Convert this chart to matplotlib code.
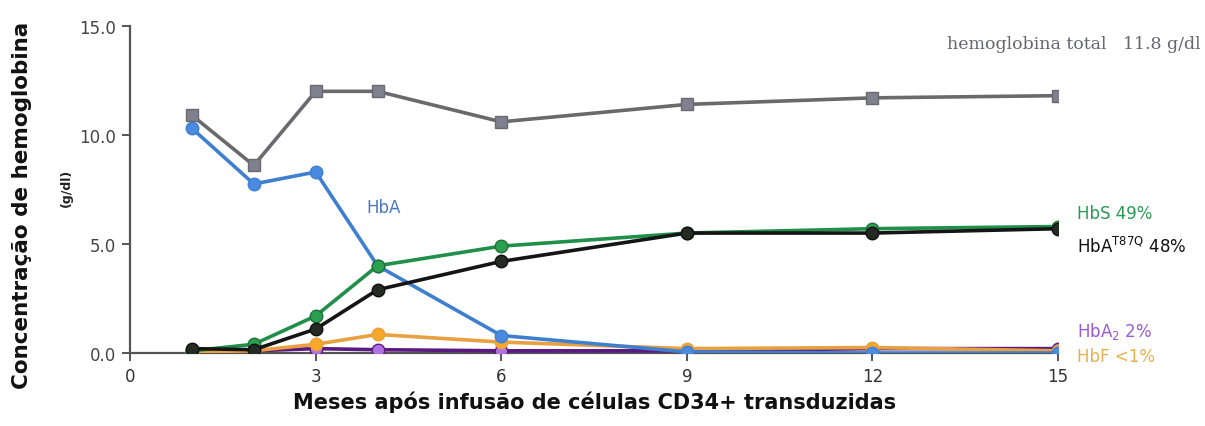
import matplotlib
matplotlib.use("Agg")
import matplotlib.pyplot as plt

months = [1, 2, 3, 4, 6, 9, 12, 15]
total = [10.9, 8.6, 12.0, 12.0, 10.6, 11.4, 11.7, 11.8]
hba = [10.3, 7.75, 8.3, 4.0, 0.8, 0.05, 0.0, 0.0]
hbs = [0.1, 0.4, 1.7, 4.0, 4.9, 5.5, 5.7, 5.8]
hbat87q = [0.2, 0.15, 1.1, 2.9, 4.2, 5.5, 5.5, 5.7]
hbf = [0.05, 0.1, 0.4, 0.85, 0.5, 0.2, 0.25, 0.1]
hba2 = [0.1, 0.1, 0.2, 0.15, 0.1, 0.1, 0.2, 0.2]

xticks = [0, 3, 6, 9, 12, 15]
yticks = [0.0, 5.0, 10.0, 15.0]

fig = plt.figure(figsize=(12.05, 4.27), dpi=100)
ax = fig.add_axes([0.108, 0.171, 0.770, 0.766])

lw = 2.6
ms = 9
ax.plot(months, hba2, color="#5a1a80", lw=lw, marker="o", ms=ms, mfc="#b070e0", mec="#5a1a80", zorder=3)
ax.plot(months, hbf, color="#e8a040", lw=lw, marker="o", ms=ms, mfc="#f7a828", mec="#e8a040", zorder=4)
ax.plot(months, hba, color="#3f7fd0", lw=lw, marker="o", ms=ms, mfc="#4a8ae0", mec="#3f7fd0", zorder=5)
ax.plot(months, hbs, color="#1f8f4a", lw=lw, marker="o", ms=ms, mfc="#2aa050", mec="#1f6f3a", zorder=6)
ax.plot(months, hbat87q, color="#151515", lw=lw, marker="o", ms=ms, mfc="#252a25", mec="#101010", zorder=7)
ax.plot(months, total, color="#6a6a6e", lw=lw, marker="s", ms=ms, mfc="#80808e", mec="#6a6a70", zorder=8)

ax.set_xlim(0, 15)
ax.set_ylim(0, 15)
for s in ["top", "right"]:
    ax.spines[s].set_visible(False)
for s in ["left", "bottom"]:
    ax.spines[s].set_color("#555555")
    ax.spines[s].set_linewidth(1.6)
ax.spines["bottom"].set_zorder(2)
ax.set_xticks(xticks)
ax.set_xticklabels([str(t) for t in xticks], fontsize=12, family="Liberation Sans Narrow", color="#333333")
ax.set_yticks(yticks)
ax.set_yticklabels([f"{t:.1f}" for t in yticks], fontsize=12, color="#444444")
ax.tick_params(axis="both", length=6, width=1.4, color="#555555", pad=4)

ax.set_xlabel("Meses após infusão de células CD34+ transduzidas", fontsize=15,
              fontweight="bold", family="Liberation Sans Narrow", color="#111111", labelpad=4)

fig.text(0.018, 0.52, "Concentração de hemoglobina", rotation=90, fontsize=15.5,
         fontweight="bold", va="center", ha="center", color="#111111")
fig.text(0.055, 0.56, "(g/dl)", rotation=90, fontsize=9, fontweight="bold",
         va="center", ha="center", color="#222222")

ax.text(13.2, 14.2, "hemoglobina total   11.8 g/dl", fontsize=12.5, color="#666670",
        ha="left", va="center", family="DejaVu Serif", clip_on=False)
ax.text(4.1, 6.7, "HbA", fontsize=12, color="#4a78c0", ha="center", va="center")
ax.text(15.3, 6.4, "HbS 49%", fontsize=12, color="#2a9a55", ha="left", va="center", clip_on=False)
ax.text(15.3, 4.9, r"HbA$^{\mathregular{T87Q}}$ 48%", fontsize=12, color="#111111", ha="left", va="center", clip_on=False)
ax.text(15.3, 1.05, r"HbA$_{\mathregular{2}}$ 2%", fontsize=12, color="#9a5ad0", ha="left", va="center", clip_on=False)
ax.text(15.3, -0.15, "HbF <1%", fontsize=12, color="#e8b050", ha="left", va="center", clip_on=False)

fig.savefig("out.png", dpi=100)
